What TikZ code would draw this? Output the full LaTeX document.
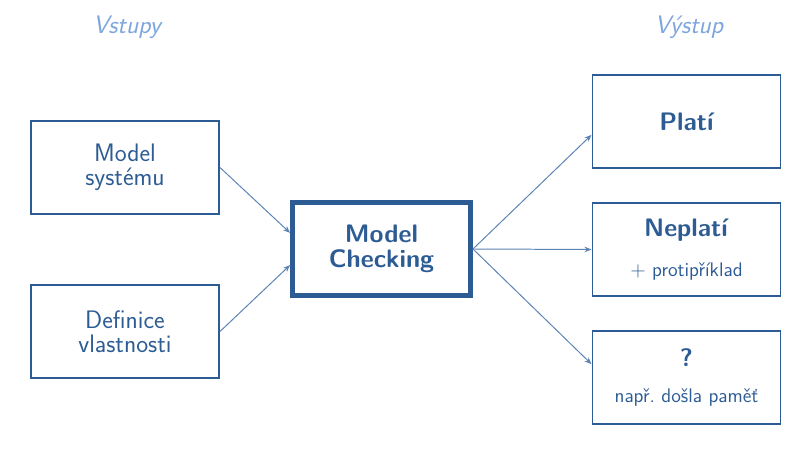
\documentclass[tikz,border=0pt]{standalone}
\usepackage{fontspec}
\usepackage{xcolor}
\usetikzlibrary{arrows.meta,positioning}

\definecolor{mcblue}{HTML}{2D5C94}
\definecolor{mclight}{HTML}{7EA6DE}
\definecolor{mcline}{HTML}{5B83B3}

\begin{document}
\begin{tikzpicture}[
  box/.style={draw=mcblue, line width=1.4pt, minimum width=4.70cm, minimum height=2.33cm,
              align=center, text=mcblue, font=\sffamily\fontsize{18}{17}\selectfont},
  core/.style={box, line width=3.5pt, minimum width=4.45cm, minimum height=2.33cm,
               font=\sffamily\bfseries\fontsize{18}{18}\selectfont},
  head/.style={text=mclight, font=\sffamily\itshape\fontsize{18}{18}\selectfont},
  note/.style={font=\sffamily\fontsize{14}{16}\selectfont},
  flow/.style={draw=mcline, line width=0.7pt, -{Stealth[length=5pt,width=4pt]}}
]
\useasboundingbox (0,0) rectangle (20.025,-11.325);

% Headings
\node[head] (inhead)  at (3.175, -0.675) {Vstupy};
\node[head] (outhead) at (17.225, -0.675) {Výstup};

% Inputs
\node[box] (sys)  at (3.125, -4.1875) {Model\\systému};
\node[box] (prop) at (3.125, -8.2875) {Definice\\vlastnosti};

% Model checker
\node[core] (mc) at (9.5375, -6.225) {Model\\Checking};

% Outputs
\node[box, font=\sffamily\bfseries\fontsize{18}{18}\selectfont] (valid) at (17.1625, -3.0375) {Platí};
\node[box, font=\sffamily\fontsize{18}{18}\selectfont] (invalid) at (17.1625, -6.2375)
  {\textbf{Neplatí}\\[10pt]{\fontsize{14}{16}\selectfont $+$ protipříklad}};
\node[box, font=\sffamily\fontsize{18}{18}\selectfont] (unknown) at (17.1625, -9.4375)
  {\textbf{?}\\[7pt]{\fontsize{14}{16}\selectfont např.\ došla paměť}};

% Connections
\draw[flow] (sys.east)  -- (mc.170);
\draw[flow] (prop.east) -- (mc.190);
\draw[flow] (mc.east) -- (valid.188);
\draw[flow] (mc.east) -- (invalid.west);
\draw[flow] (mc.east) -- (unknown.172);

\end{tikzpicture}
\end{document}
